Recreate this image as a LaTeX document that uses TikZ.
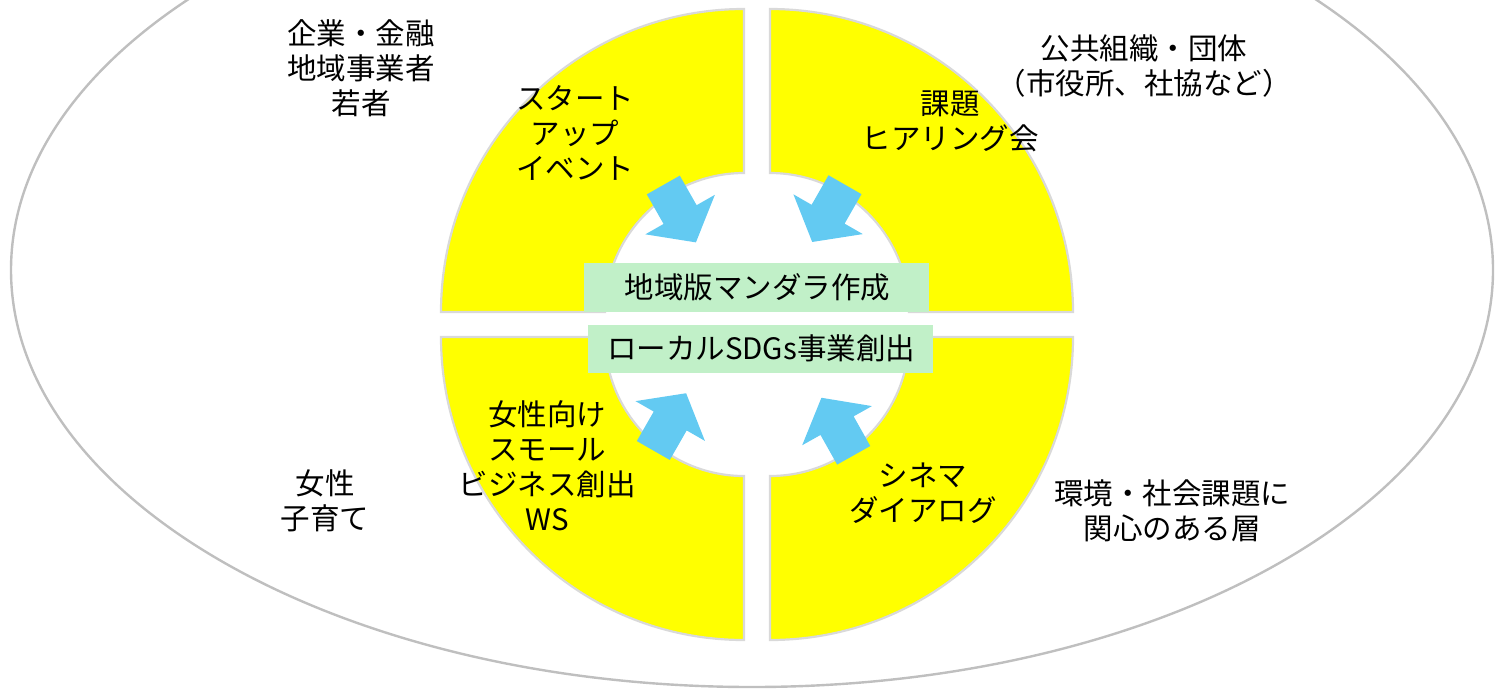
\documentclass[tikz,border=0pt]{standalone}
\usepackage{fontspec}
\setmainfont{Noto Sans CJK JP}
\definecolor{quadyellow}{RGB}{255,255,0}
\definecolor{quadedge}{RGB}{217,217,217}
\definecolor{ellipseedge}{RGB}{191,191,191}
\definecolor{boxgreen}{RGB}{193,240,200}
\definecolor{arrowblue}{RGB}{99,202,242}
\tikzset{
  quad/.style={fill=quadyellow, draw=quadedge, line width=2.2pt, line join=miter},
  outer/.style={draw=ellipseedge, line width=2.4pt},
  lbl/.style={align=center, inner sep=0pt, font=\fontsize{29.5}{35}\selectfont},
  gbox/.style={fill=boxgreen, inner sep=0pt, font=\fontsize{29.5}{35}\selectfont},
  barrow/.pic={\fill[arrowblue] (0,-19) -- (34,-19) -- (34,-40) -- (66,0) -- (34,40) -- (34,19) -- (0,19) -- cycle;}
}
\begin{document}
\begin{tikzpicture}[x=1pt, y=1pt, yscale=-1]
\useasboundingbox (0,0) rectangle (1495,689);
% outer ellipse
\draw[outer] (752,270) ellipse [x radius=741, y radius=417];
% quadrants
\path[quad] (441,312) arc[start angle=180, end angle=270, radius=303] -- (744,173) arc[start angle=270, end angle=180, radius=139] -- cycle;
\path[quad] (770,9) arc[start angle=270, end angle=360, radius=303] -- (909,312) arc[start angle=0, end angle=-90, radius=139] -- cycle;
\path[quad] (441,337) arc[start angle=180, end angle=90, radius=303] -- (744,476) arc[start angle=90, end angle=180, radius=139] -- cycle;
\path[quad] (1073,337) arc[start angle=0, end angle=90, radius=303] -- (770,476) arc[start angle=90, end angle=0, radius=139] -- cycle;
% block arrows
\pic[rotate=-60.4] at (663.3,185) {barrow};
\pic[rotate=-119.8] at (845,184.7) {barrow};
\pic[rotate=60.2] at (653.3,450.5) {barrow};
\pic[rotate=119.3] at (853.7,455.3) {barrow};
% green boxes
\node[gbox, minimum width=345pt, minimum height=49pt] (g1) at (756.5,287.5) {};
\node (g1t) at (757.5,287) [inner sep=0pt, font=\fontsize{29.5}{35}\selectfont] {地域版マンダラ作成};
\node[gbox, minimum width=345pt, minimum height=48pt] (g2) at (760.5,349) {};
\node (g2t) at (761,348) [inner sep=0pt, font=\fontsize{29.5}{35}\selectfont] {ローカルSDGs事業創出};
% quadrant labels
\node[lbl] (q1) at (575,133) {スタート\\アップ\\イベント};
\node[lbl] (q2) at (950,121) {課題\\ヒアリング会};
\node[lbl] (q3) at (547,466) {女性向け\\スモール\\ビジネス創出\\WS};
\node[lbl] (q4) at (923,493) {シネマ\\ダイアログ};
% outer labels
\node[lbl] (n1) at (361,68) {企業・金融\\地域事業者\\若者};
\node[lbl] (n2) at (1144,66) {公共組織・団体\\（市役所、社協など）};
\node[lbl] (n3) at (325,501) {女性\\子育て};
\node[lbl] (n4) at (1172,511) {環境・社会課題に\\関心のある層};
\end{tikzpicture}
\end{document}
